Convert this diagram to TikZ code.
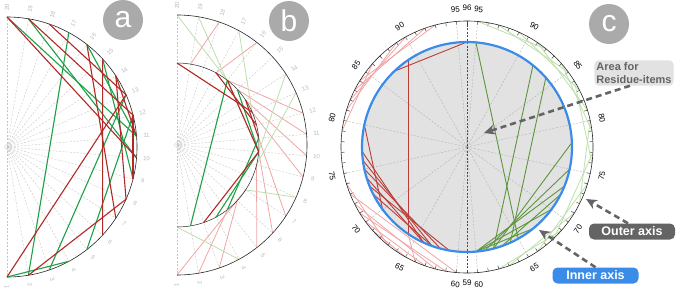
\documentclass[tikz,border=0pt]{standalone}
\usepackage{fontspec}
\setmainfont{Liberation Sans}
\usetikzlibrary{arrows.meta,positioning}
\definecolor{chordred}{RGB}{178,40,36}
\definecolor{chordgreen}{RGB}{30,160,70}
\definecolor{olivegreen}{RGB}{92,150,60}
\definecolor{fadered}{RGB}{240,165,165}
\definecolor{fadegreen}{RGB}{190,222,170}
\definecolor{axisblue}{RGB}{58,140,232}
\definecolor{areagray}{RGB}{226,226,226}
\definecolor{tagdark}{RGB}{100,100,100}
\definecolor{badgegray}{RGB}{170,170,170}

\begin{document}
\begin{tikzpicture}[x=1pt, y=1pt,
  spoke/.style={dash pattern=on 2pt off 1.5pt, gray!45, line width=0.4pt},
  rimnum/.style={font=\fontsize{6}{6}\selectfont, text=gray!55, inner sep=0pt},
  axisnum/.style={font=\fontsize{8}{8}\selectfont, inner sep=0pt},
  rim/.style={line width=0.6pt, black!85},
  hotred/.style={chordred, line width=1.1pt},
  hotgreen/.style={chordgreen, line width=1.1pt},
  dimred/.style={fadered, line width=0.8pt},
  dimgreen/.style={fadegreen, line width=0.8pt},
  olivered/.style={chordred!90, line width=0.9pt},
  olive/.style={olivegreen, line width=0.9pt},
  axistick/.style={line width=0.5pt, black!75},
  badge/.style={circle, fill=badgegray, minimum size=40pt, inner sep=0pt, text=white, font=\fontsize{30}{30}\selectfont},
  tag/.style={rounded corners=5pt, inner sep=0pt, font=\bfseries\fontsize{12.5}{14}\selectfont, text=white, minimum height=16pt, minimum width=86pt},
  pointer/.style={tagdark, line width=2.6pt, dash pattern=on 6pt off 4pt, -{Stealth[length=11pt, width=10pt]}}
]
  \useasboundingbox (0,-289) rectangle (676,0);

  % panel a
  \begin{scope}[shift={(7,-147)}]
    \foreach \k in {1,...,20}{
      \pgfmathsetmacro\ang{-90+(\k-1)*180/19}
      \coordinate (a\k) at (\ang:130);
      \draw[spoke] (0,0) -- (a\k);
      \node[rimnum, rotate=\ang] (an\k) at (\ang:140) {\k};
    }
    \draw[gray!40] (0,0) circle (2.5);
    \draw[rim] (a1) arc[start angle=-90, end angle=90, radius=130];
    \foreach \p/\q in {20/11,19/10,17/2,15/9,13/3,5/12,1/4,16/11}
      \draw[hotgreen] (a\p) -- (a\q);
    \foreach \p/\q in {20/10,18/13,16/7,15/6,14/8,1/13,2/8,14/11,12/9,19/12}
      \draw[hotred] (a\p) -- (a\q);
  \end{scope}

  % panel b
  \begin{scope}[shift={(177,-145)}]
    \foreach \k in {1,...,20}{
      \pgfmathsetmacro\ang{-90+(\k-1)*180/19}
      \coordinate (bo\k) at (\ang:130);
      \coordinate (bi\k) at (\ang:82);
      \draw[spoke] (0,0) -- (bo\k);
      \node[rimnum, rotate=\ang] (bn\k) at (\ang:140) {\k};
    }
    \draw[gray!40] (0,0) circle (2.5);
    \foreach \p/\q in {18/19,16/17,12/16,11/15,10/14,9/13,7/11,6/10,5/9,3/6,2/5,1/7}
      \draw[dimred] (bo\p) -- (bi\q);
    \foreach \p/\q in {20/16,19/10,14/10,13/9,8/7,4/1,17/13}
      \draw[dimgreen] (bo\p) -- (bi\q);
    \draw[rim] (bo1) arc[start angle=-90, end angle=90, radius=130];
    \draw[rim, line width=0.5pt] (bi1) arc[start angle=-90, end angle=90, radius=82];
    \foreach \p/\q in {2/16,4/10,5/11,15/10}
      \draw[hotgreen] (bi\p) -- (bi\q);
    \foreach \p/\q in {20/13,16/10,3/10,14/11,17/12}
      \draw[hotred] (bi\p) -- (bi\q);
  \end{scope}

  % panel c
  \begin{scope}[shift={(467,-147)}]
    \fill[areagray] (0,0) circle (105);
    \foreach \v in {59,...,96}{
      \pgfmathsetmacro\angL{90+(96-\v)*180/37}
      \pgfmathsetmacro\angR{90-(96-\v)*180/37}
      \coordinate (cl\v) at (\angL:105);
      \coordinate (cr\v) at (\angR:105);
      \coordinate (ol\v) at (\angL:126);
      \coordinate (or\v) at (\angR:126);
      \draw[axistick] (\angL:126) -- (\angL:122.5);
      \draw[axistick] (\angR:126) -- (\angR:122.5);
    }
    \foreach \v in {95,90,...,60}{
      \draw[spoke, gray!60] (0,0) -- (ol\v);
      \draw[spoke, gray!60] (0,0) -- (or\v);
    }
    \draw[spoke, black!70, line width=0.6pt] (ol96) -- (ol59);
    \foreach \p/\q in {83/92,82/90,84/93,81/89,79/86,72/62,71/61,70/63,73/60,69/65,74/67}
      \draw[dimred] (ol\p) -- (ol\q);
    \draw[dimred] (cl66) -- (ol64);
    \foreach \p/\q in {95/88,93/85,91/83,89/81,86/79,84/76,80/72,77/68,74/66,71/63,69/62}
      \draw[dimgreen] (or\p) -- (or\q);
    \foreach \p/\q in {96/87,89/66,80/70,77/64,76/63,75/62,74/64,73/61,72/63}
      \draw[olivered] (cl\p) -- (cl\q);
    \foreach \p/\q in {95/65,88/62,60/70,60/73,61/75,62/78,63/72,60/67,86/64}
      \draw[olive] (cr\p) -- (cr\q);
    \draw[axisblue, line width=2.2pt] (0,0) circle (105);
    \draw[rim] (0,0) circle (126);
    \foreach \v in {95,90,...,60}{
      \pgfmathsetmacro\angL{90+(96-\v)*180/37}
      \pgfmathsetmacro\angR{90-(96-\v)*180/37}
      \pgfmathsetmacro\rotL{\angL<=180 ? \angL-90 : \angL+90}
      \pgfmathsetmacro\rotR{\angR>=0 ? \angR-90 : \angR+90}
      \node[axisnum, rotate=\rotL] (nl\v) at (\angL:138) {\v};
      \node[axisnum, rotate=\rotR] (nr\v) at (\angR:138) {\v};
    }
    \node[axisnum] (n96) at (90:139) {96};
    \node[axisnum] (n59) at (-90:136) {59};
  \end{scope}

  \node[badge] (ba) at (123,-20) {a};
  \node[badge] (bb) at (289,-21) {b};
  \node[badge] (bc) at (609,-24) {c};

  \node[tag, fill=areagray, text=tagdark, align=left, inner sep=2pt, minimum width=0pt, rounded corners=4pt,
        font=\bfseries\fontsize{11}{13}\selectfont] (area) at (634,-73) {Area for\\Residue-items};
  \node[tag, fill=tagdark] (outer) at (632,-231.5) {Outer axis};
  \node[tag, fill=axisblue] (inner) at (595.5,-275.5) {Inner axis};

  \coordinate (residue) at (484,-133);
  \coordinate (outertip) at (586,-199);
  \coordinate (innertip) at (539,-230);
  \draw[pointer] ([xshift=-4pt]area.south) -- (residue);
  \draw[pointer] ([xshift=-4pt]outer.north) -- (outertip);
  \draw[pointer] (inner.north) -- (innertip);
\end{tikzpicture}
\end{document}
